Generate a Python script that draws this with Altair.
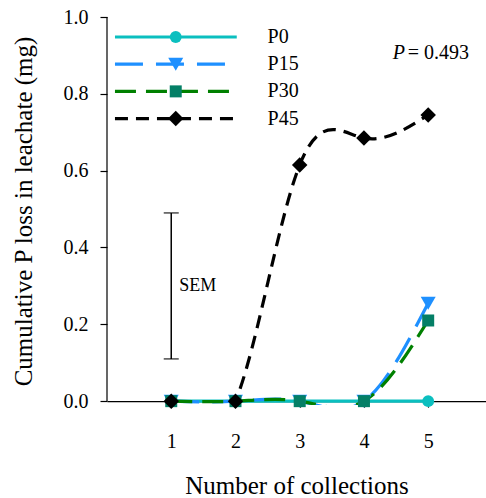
import altair as alt
import pandas as pd

# ---- data ----
collections = [1, 2, 3, 4, 5]
series_names = ["P0", "P15", "P30", "P45"]
p0 = [0.0, 0.0, 0.0, 0.0, 0.0]
p15 = [0.0, 0.0, 0.0, 0.0, 0.255]
p30 = [0.0, 0.0, 0.0, 0.0, 0.21]
p45 = [0.0, 0.0, 0.615, 0.685, 0.745]
values = {"P0": p0, "P15": p15, "P30": p30, "P45": p45}

sem_center = 0.30
sem_half = 0.19
p_value = 0.493
x_ticks = [1, 2, 3, 4, 5]
y_ticks = [0.0, 0.2, 0.4, 0.6, 0.8, 1.0]

# ---- styles ----
FONT = "Times New Roman, Liberation Serif, DejaVu Serif, serif"
line_colors = ["#0BBFBF", "#1E90FF", "#008000", "#000000"]
marker_colors = ["#0BBFBF", "#1E90FF", "#047F66", "#000000"]
shapes = ["circle", "triangle-down", "square", "diamond"]
sizes = [140, 225, 144, 240]
dashes = [[1, 0], [28, 13], [21, 10], [13, 8]]

W, H = 379, 388
X_DOM = [0, 5.9]
Y_DOM = [-0.01, 1.0]
y_offset_px = -(0.0 - Y_DOM[0]) / (Y_DOM[1] - Y_DOM[0]) * H

xs = alt.Scale(domain=X_DOM, nice=False, zero=False)
ys = alt.Scale(domain=Y_DOM, nice=False, zero=False)


def X(field="x", axis=False):
    if axis:
        return alt.X(field, type="quantitative", scale=xs,
                     axis=alt.Axis(values=x_ticks, format="d", tickSize=6, labelPadding=24,
                                   title="Number of collections", titlePadding=22,
                                   offset=y_offset_px, grid=False))
    return alt.X(field, type="quantitative", scale=xs)


def Y(field="y", axis=False):
    if axis:
        return alt.Y(field, type="quantitative", scale=ys,
                     axis=alt.Axis(values=y_ticks, format=".1f", tickSize=7, labelPadding=12,
                                   title="Cumulative P loss in leachate (mg)", titlePadding=27,
                                   domain=False, grid=False))
    return alt.Y(field, type="quantitative", scale=ys)


layers = []

# y axis line from 0 to 1
layers.append(alt.Chart(pd.DataFrame({"x": [0], "y0": [0.0], "y1": [1.0]})).mark_rule(
    color="black", strokeWidth=1.2).encode(x=X("x"), y=Y("y0"), y2="y1"))

# series lines
for i, name in enumerate(series_names):
    df = pd.DataFrame({"x": collections, "y": values[name]})
    layers.append(
        alt.Chart(df).mark_line(interpolate="natural", clip=True, color=line_colors[i],
                                strokeWidth=3.2, strokeDash=dashes[i]).encode(
            x=X(axis=(i == 0)), y=Y(axis=(i == 0)))
    )

# series markers
for i, name in enumerate(series_names):
    df = pd.DataFrame({"x": collections, "y": values[name]})
    layers.append(
        alt.Chart(df).mark_point(shape=shapes[i], size=sizes[i], filled=True, opacity=1,
                                 color=marker_colors[i]).encode(x=X(), y=Y())
    )

# SEM bar
sem_df = pd.DataFrame({"x": [1], "lo": [sem_center - sem_half], "hi": [sem_center + sem_half],
                       "mid": [sem_center], "lab": ["SEM"]})
layers.append(alt.Chart(sem_df).mark_rule(color="black", strokeWidth=1.5).encode(
    x=X(), y=Y("lo"), y2="hi"))
layers.append(alt.Chart(sem_df).transform_fold(["lo", "hi"], as_=["k", "v"]).mark_tick(
    orient="horizontal", color="black", thickness=1.5, size=15).encode(x=X(), y=Y("v")))
layers.append(alt.Chart(sem_df).mark_text(font=FONT, fontSize=18, align="left", baseline="middle",
                                          dx=8, color="black").encode(
    x=X(), y=Y("mid"), text="lab:N"))

# legend (drawn in data space)
LEG_X0, LEG_X1, LEG_XM, LEG_XL = 0.124, 2.02, 1.07, 2.50
LEG_Y0, LEG_DY = 0.948, 0.0708
for i, name in enumerate(series_names):
    ldf = pd.DataFrame({"x0": [LEG_X0], "x1": [LEG_X1], "xm": [LEG_XM], "xl": [LEG_XL],
                        "y": [LEG_Y0 - i * LEG_DY], "lab": [name]})
    layers.append(alt.Chart(ldf).mark_rule(color=line_colors[i], strokeWidth=3.2,
                                           strokeDash=dashes[i]).encode(
        x=X("x0"), x2="x1", y=Y("y")))
    layers.append(alt.Chart(ldf).mark_point(shape=shapes[i], size=sizes[i], filled=True, opacity=1,
                                            color=marker_colors[i]).encode(x=X("xm"), y=Y("y")))
    layers.append(alt.Chart(ldf).mark_text(font=FONT, fontSize=20, align="left", baseline="middle",
                                           color="black").encode(x=X("xl"), y=Y("y"), text="lab:N"))

# P value annotation
pdf = pd.DataFrame({"x": [4.45], "x2": [4.68], "y": [0.8906],
                    "p": ["P"], "rest": [f"= {p_value:.3f}"]})
layers.append(alt.Chart(pdf).mark_text(font=FONT, fontSize=20, fontStyle="italic", align="left",
                                       baseline="alphabetic", color="black").encode(
    x=X("x"), y=Y("y"), text="p:N"))
layers.append(alt.Chart(pdf).mark_text(font=FONT, fontSize=20, align="left",
                                       baseline="alphabetic", color="black").encode(
    x=X("x2"), y=Y("y"), text="rest:N"))

chart = alt.layer(*layers).properties(
    width=W, height=H,
    autosize=alt.AutoSizeParams(type="none"),
    padding={"left": 107, "top": 17, "right": 0, "bottom": 93},
).configure(font=FONT).configure_view(stroke=None).configure_axis(
    labelFont=FONT, titleFont=FONT, labelFontSize=20, titleFontSize=25,
    titleFontWeight="normal", labelColor="black", titleColor="black",
    domainColor="black", tickColor="black", domainWidth=1.2, tickWidth=1.2,
).configure_text(font=FONT)

chart.save("out.html", embed_options={"renderer": "svg", "actions": False})
